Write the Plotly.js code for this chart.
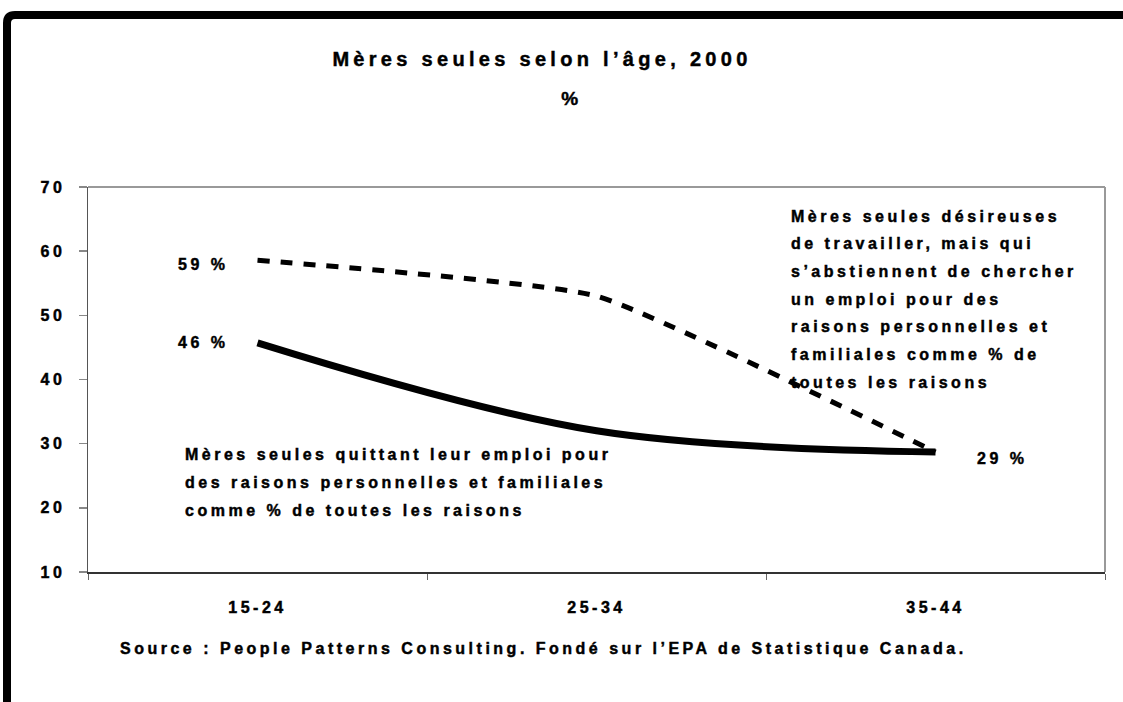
<!DOCTYPE html>
<html><head><meta charset="utf-8">
<script src="https://cdn.plot.ly/plotly-3.0.1.min.js"></script>
<style>
html,body{margin:0;padding:0;background:#fff;}
#chart{width:1123px;height:702px;}
.main-svg text{letter-spacing:3.5px; stroke:#000; stroke-width:0.45px;}
.gtitle{letter-spacing:4.3px !important;}
</style></head><body><div id="chart"></div>
<script>
// ---- data ----
const ageGroups = ['15-24', '25-34', '35-44'];
const quittingJob = [45.7, 32, 28.7];      // solid line
const notSearching = [58.6, 53, 28.7];     // dashed line
const startLabels = ['59 %', '46 %'];
const endLabel = '29 %';
const yTicks = [10, 20, 30, 40, 50, 60, 70];
const titleText = 'Mères seules selon l’âge, 2000';
const unitText = '%';
const notSearchingText = ['Mères seules désireuses', 'de travailler, mais qui', 's’abstiennent de chercher',
  'un emploi pour des', 'raisons personnelles et', 'familiales comme % de', 'toutes les raisons'];
const quittingText = ['Mères seules quittant leur emploi pour', 'des raisons personnelles et familiales',
  'comme % de toutes les raisons'];
const sourceText = 'Source : People Patterns Consulting. Fondé sur l’EPA de Statistique Canada.';

// ---- layout helpers (pixel -> paper) ----
const W = 1123, H = 702, L = 88, R = 18, T = 187, B = 130;
const pw = W - L - R, ph = H - T - B;
const px = v => (v - L) / pw;
const py = v => (H - B - v) / ph;
const FONT = 'Arial, "Liberation Sans", Helvetica, sans-serif';
const txt = (size) => ({family: FONT, size: size, color: '#000', weight: 700});
const b = s => '<b>' + s + '</b>';

const traces = [
  {x: ageGroups, y: notSearching, type: 'scatter', mode: 'lines',
   line: {color: '#000', width: 5, dash: '12px,11px', shape: 'spline', smoothing: 0.4}, hoverinfo: 'none'},
  {x: ageGroups, y: quittingJob, type: 'scatter', mode: 'lines',
   line: {color: '#000', width: 7, shape: 'spline', smoothing: 1}, hoverinfo: 'none'}
];

const ann = [];
ann.push({xref: 'paper', yref: 'paper', x: px(571), y: py(98), xanchor: 'center', yanchor: 'middle',
  text: b(unitText), showarrow: false, font: txt(19)});
ann.push({xref: 'x', yref: 'y', x: ageGroups[0], y: notSearching[0], xanchor: 'right', yanchor: 'middle', align: 'right',
  xshift: -28, yshift: -4, text: b(startLabels[0]), showarrow: false, font: txt(16)});
ann.push({xref: 'x', yref: 'y', x: ageGroups[0], y: quittingJob[0], xanchor: 'right', yanchor: 'middle', align: 'right',
  xshift: -28, yshift: 0, text: b(startLabels[1]), showarrow: false, font: txt(16)});
ann.push({xref: 'x', yref: 'y', x: ageGroups[2], y: quittingJob[2], xanchor: 'left', yanchor: 'middle', align: 'left',
  xshift: 39, yshift: -6, text: b(endLabel), showarrow: false, font: txt(16)});
notSearchingText.forEach((t, i) => ann.push({xref: 'paper', yref: 'paper', x: px(789), y: py(216 + i * 27.7),
  xanchor: 'left', yanchor: 'middle', align: 'left', text: b(t), showarrow: false, font: txt(16)}));
quittingText.forEach((t, i) => ann.push({xref: 'paper', yref: 'paper', x: px(183), y: py(454 + i * 28),
  xanchor: 'left', yanchor: 'middle', align: 'left', text: b(t), showarrow: false, font: txt(16)}));
ann.push({xref: 'paper', yref: 'paper', x: px(118), y: py(648), xanchor: 'left', yanchor: 'middle', align: 'left',
  text: b(sourceText), showarrow: false, font: txt(16)});

const shapes = [
  {type: 'path', xref: 'paper', yref: 'paper', layer: 'above',
   path: `M ${px(7)} ${py(710)} L ${px(7)} ${py(23)} Q ${px(7)} ${py(15)} ${px(15)} ${py(15)} L ${px(1130)} ${py(15)}`,
   line: {color: '#000', width: 8}},
  {type: 'line', xref: 'paper', yref: 'paper', x0: 0, x1: 1, y0: 1, y1: 1, line: {color: '#999', width: 2}},
  {type: 'line', xref: 'paper', yref: 'paper', x0: 1, x1: 1, y0: 0, y1: 1, line: {color: '#999', width: 2}}
];

const layout = {
  width: W, height: H, margin: {l: L, r: R, t: T, b: B},
  paper_bgcolor: '#fff', plot_bgcolor: '#fff', showlegend: false,
  title: {text: b(titleText), font: txt(20), x: 542 / W, xanchor: 'center', xref: 'container',
          y: 1 - 59 / H, yanchor: 'middle', yref: 'container'},
  xaxis: {type: 'category', range: [-0.5, 2.5], tickson: 'boundaries', ticks: 'outside', ticklen: 6,
          tickvals: ageGroups, ticktext: ageGroups.map(b),
          tickcolor: '#666', tickwidth: 1, showline: true, linecolor: '#333', linewidth: 2,
          showgrid: false, zeroline: false, tickfont: txt(16), ticklabelstandoff: 20, fixedrange: true},
  yaxis: {range: [10, 70], tickvals: yTicks, ticktext: yTicks.map(v => b(String(v))), ticks: 'outside', ticklen: 8,
          tickcolor: '#888', tickwidth: 1.5,
          showline: true, linecolor: '#555', linewidth: 1.5, showgrid: false, zeroline: false,
          tickfont: txt(16), ticklabelstandoff: 10, fixedrange: true},
  annotations: ann, shapes: shapes
};
Plotly.newPlot('chart', traces, layout, {displayModeBar: false, staticPlot: true});
</script></body></html>
